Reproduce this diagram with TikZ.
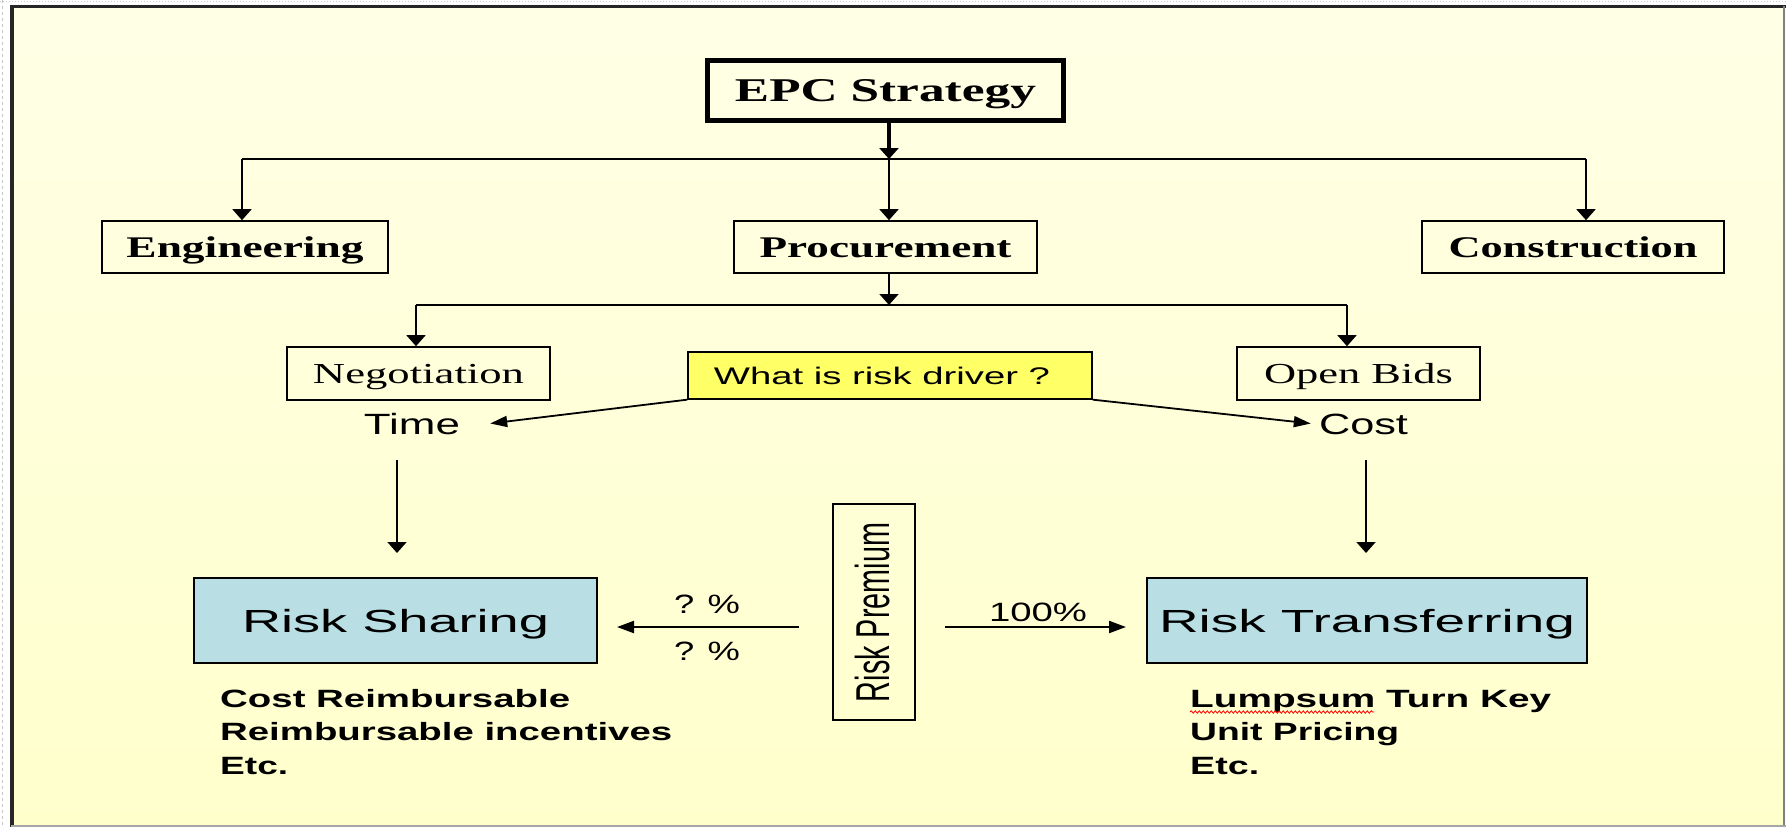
\documentclass[tikz,border=0pt]{standalone}
\usepackage{fontspec}
\usepackage{graphicx}
\usetikzlibrary{arrows.meta,decorations.pathmorphing}
\newfontfamily\tnr{Liberation Serif}
\newfontfamily\arl{Liberation Sans}
% stretch a text horizontally to a given width, keeping its height
\newcommand\fitwd[2]{\resizebox{#1pt}{\height}{#2}}
\definecolor{paperTop}{HTML}{FFFFE6}
\definecolor{paperBot}{HTML}{FFFFCC}
\definecolor{riskblue}{HTML}{B9DFE5}
\definecolor{driveryellow}{HTML}{FFFF66}

\begin{document}
\begin{tikzpicture}[x=1pt,y=-1pt,
  box/.style={draw=black, line width=1.6pt, inner sep=0pt, text depth=0pt},
  lbl/.style={inner sep=0pt, text depth=0pt},
  conn/.style={line width=1.8pt, black},
  tipV/.style={-{Triangle[length=11pt,width=19pt]}},
  tipH/.style={-{Triangle[length=17pt,width=12pt]}},
  tipD/.style={-{Triangle[length=17pt,width=11pt]}}
]
\useasboundingbox (0,0) rectangle (1786,827);

% page and frame
\fill[white] (0,0) rectangle (1786,827);
\shade[top color=paperTop, bottom color=paperBot] (11,6) rectangle (1786,827);
\draw[gray!45, dashed, line width=1pt] (2,0) -- (2,827);
\draw[gray!40, dotted, line width=1pt] (0,1) -- (1786,1);
\draw[line width=4pt, black!85] (12,5) -- (12,827);
\draw[line width=3pt, black!85] (10,6) -- (1786,6);
\draw[line width=1.5pt, gray] (1784,6) -- (1784,827);
\draw[line width=1.5pt, gray!70] (11,826) -- (1786,826);

% top level
\node[box, line width=5pt, minimum width=356pt, minimum height=60pt, text height=22pt]
  (epc) at (885.5,90) {\tnr\bfseries\fontsize{33.2}{36}\selectfont\fitwd{301}{EPC Strategy}};

\node[box, minimum width=286pt, minimum height=52pt, text height=20pt]
  (eng) at (245,247) {\tnr\bfseries\fontsize{30}{34}\selectfont\fitwd{237}{Engineering}};
\node[box, minimum width=303pt, minimum height=52pt, text height=20pt]
  (proc) at (885.5,247) {\tnr\bfseries\fontsize{30}{34}\selectfont\fitwd{252}{Procurement}};
\node[box, minimum width=302pt, minimum height=52pt, text height=20pt]
  (cons) at (1573,247) {\tnr\bfseries\fontsize{30}{34}\selectfont\fitwd{249}{Construction}};

% procurement routes
\node[box, minimum width=263pt, minimum height=53pt, text height=19pt]
  (neg) at (418.5,373.5) {\tnr\fontsize{29}{33}\selectfont\fitwd{211}{Negotiation}};
\node[box, minimum width=243pt, minimum height=53pt, text height=19pt]
  (bids) at (1358.5,373.5) {\tnr\fontsize{29}{33}\selectfont\fitwd{189}{Open Bids}};
\node[box, fill=driveryellow, line width=1.3pt, minimum width=404pt, minimum height=47pt, text height=17pt]
  (driver) at (890,375.5) {\arl\fontsize{24}{28}\selectfont\fitwd{336}{What is risk driver ?}\hspace*{16pt}};

\node[lbl, text height=21pt] (time) at (412,423.5) {\arl\fontsize{29.3}{33}\selectfont\fitwd{96}{Time}};
\node[lbl, text height=21pt] (cost) at (1363.5,423.5) {\arl\fontsize{29.3}{33}\selectfont\fitwd{89}{Cost}};

% risk allocation
\node[box, fill=riskblue, minimum width=403pt, minimum height=85pt, text height=23pt]
  (share) at (395.5,620.5) {\arl\fontsize{32}{36}\selectfont\fitwd{307}{Risk Sharing}};
\node[box, fill=riskblue, minimum width=440pt, minimum height=85pt, text height=23pt]
  (transfer) at (1367,620.5) {\arl\fontsize{32}{36}\selectfont\fitwd{416}{Risk Transferring}};
\node[box, minimum width=82pt, minimum height=216pt, text height=0pt]
  (premium) at (874,612) {};
\node[lbl] (premtext) at (873,612.5)
  {\rotatebox{90}{\scalebox{1}[1.65]{\arl\fontsize{28.8}{32}\selectfont Risk Premium}}};

\node[lbl, text height=19pt] (pctA) at (707,603.5) {\arl\fontsize{26.5}{30}\selectfont\fitwd{66}{? \%}};
\node[lbl, text height=19pt] (pctB) at (707,650.5) {\arl\fontsize{26.5}{30}\selectfont\fitwd{66}{? \%}};
\node[lbl, text height=19pt] (full) at (1038,611.5) {\arl\fontsize{26.5}{30}\selectfont\fitwd{98}{100\%}};

% contract types
\node[lbl, anchor=base west] (l1) at (220,707) {\arl\bfseries\fontsize{25}{30}\selectfont\fitwd{350}{Cost Reimbursable}};
\node[lbl, anchor=base west] (l2) at (220,740) {\arl\bfseries\fontsize{25}{30}\selectfont\fitwd{452}{Reimbursable incentives}};
\node[lbl, anchor=base west] (l3) at (220,774) {\arl\bfseries\fontsize{25}{30}\selectfont\fitwd{68}{Etc.}};
\node[lbl, anchor=base west] (r1) at (1190,707) {\arl\bfseries\fontsize{25}{30}\selectfont\fitwd{361}{Lumpsum Turn Key}};
\node[lbl, anchor=base west] (r2) at (1190,740) {\arl\bfseries\fontsize{25}{30}\selectfont\fitwd{209}{Unit Pricing}};
\node[lbl, anchor=base west] (r3) at (1190,774) {\arl\bfseries\fontsize{25}{30}\selectfont\fitwd{69}{Etc.}};
\draw[red, line width=0.8pt, decorate, decoration={snake, amplitude=1.2pt, segment length=4pt}]
  (r1.base west) ++(0,5) -- ++(184,0);

% connectors: strategy tree
\coordinate (j1) at (889,159);
\coordinate (jl) at (242,159);
\coordinate (jr) at (1586,159);
\draw[conn, line width=3.5pt, tipV] (epc.south -| j1) -- (j1);
\draw[conn] (jl) -- (jr);
\draw[conn, tipV] (jl) -- (jl |- eng.north);
\draw[conn, tipV] (j1) -- (j1 |- proc.north);
\draw[conn, tipV] (jr) -- (jr |- cons.north);

\coordinate (j2) at (889,305);
\coordinate (j2l) at (416,305);
\coordinate (j2r) at (1347,305);
\draw[conn, tipV] (proc.south -| j2) -- (j2);
\draw[conn] (j2l) -- (j2r);
\draw[conn, tipV] (j2l) -- (j2l |- neg.north);
\draw[conn, tipV] (j2r) -- (j2r |- bids.north);

% risk driver
\draw[conn, tipD] (driver.south west) -- ([xshift=30pt]time.east);
\draw[conn, tipD] (driver.south east) -- ([xshift=-8pt]cost.west);

\coordinate (tdA) at (397,460);
\coordinate (tdB) at (397,553);
\coordinate (cdA) at (1366,460);
\coordinate (cdB) at (1366,553);
\draw[conn, tipV] (tdA) -- (tdB);
\draw[conn, tipV] (cdA) -- (cdB);

% premium split
\coordinate (lsA) at (799,627);
\coordinate (lsB) at (617,627);
\coordinate (rsA) at (945,627);
\coordinate (rsB) at (1126,627);
\draw[conn, line width=2.2pt, tipH] (lsA) -- (lsB);
\draw[conn, line width=2.2pt, tipH] (rsA) -- (rsB);
\end{tikzpicture}
\end{document}
